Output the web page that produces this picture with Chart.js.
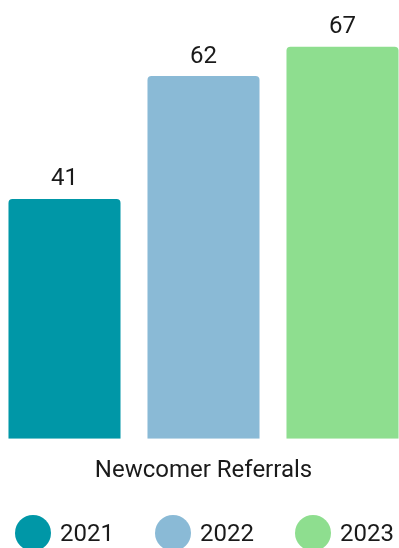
<!DOCTYPE html>
<html>
<head>
<meta charset="utf-8">
<script src="https://cdn.jsdelivr.net/npm/chart.js@4.4.0/dist/chart.umd.min.js"></script>
<style>
    html, body { margin: 0; padding: 0; background: #fff; overflow: hidden; }
    .wrap { position: relative; width: 399px; height: 548px; }
    .chart-box { position: absolute; left: 0; top: 0; width: 399px; height: 518px; }
    .legend { position: absolute; left: 15px; top: 515px; display: flex; font-family: Roboto, sans-serif; font-size: 24px; color: #1a1a1a; }
    .legend-item { display: flex; align-items: center; width: 140px; }
    .legend-dot { width: 36px; height: 36px; border-radius: 50%; margin-right: 9px; flex: none; }
</style>
</head>
<body>
<div class="wrap">
    <div class="chart-box"><canvas id="referralsChart"></canvas></div>
    <div class="legend" id="legend"></div>
</div>
<script>
// Yillar bo'yicha yo'llanmalar soni
const categories = ['Newcomer Referrals'];
const years = ['2021', '2022', '2023'];
const referrals = [41, 62, 67];
const colors = ['#0097a7', '#8abad6', '#8ede8f'];

const textColor = '#1a1a1a';

// Ustunlar ustiga qiymatni yozish
const valueLabels = {
    id: 'valueLabels',
    afterDatasetsDraw(chart) {
        const ctx = chart.ctx;
        ctx.save();
        ctx.font = '24px Roboto, sans-serif';
        ctx.fillStyle = textColor;
        ctx.textAlign = 'center';
        ctx.textBaseline = 'alphabetic';
        chart.data.datasets.forEach((ds, i) => {
            chart.getDatasetMeta(i).data.forEach((bar, j) => {
                ctx.fillText(ds.data[j], bar.x, bar.y - 13.5);
            });
        });
        ctx.restore();
    }
};

const datasets = years.map((year, i) => ({
    label: year,
    data: [referrals[i]],
    backgroundColor: colors[i],
    borderRadius: 4,
    categoryPercentage: 1.0665,
    barPercentage: 0.806
}));

new Chart(document.getElementById('referralsChart'), {
    type: 'bar',
    data: { labels: categories, datasets: datasets },
    plugins: [valueLabels],
    options: {
        responsive: true,
        maintainAspectRatio: false,
        animation: false,
        layout: { padding: { left: 8, right: 0, top: 0, bottom: 14.5 } },
        scales: {
            x: {
                grid: { display: false, drawTicks: false },
                border: { display: false },
                ticks: { color: textColor, padding: 18, font: { family: 'Roboto', size: 24 } }
            },
            y: {
                display: false,
                min: 0,
                max: 75
            }
        },
        plugins: {
            legend: { display: false },
            tooltip: { enabled: false }
        }
    }
});

// Pastdagi legenda
const legendEl = document.getElementById('legend');
years.forEach((year, i) => {
    const item = document.createElement('div');
    item.className = 'legend-item';
    item.innerHTML = `<span class="legend-dot" style="background:${colors[i]}"></span><span>${year}</span>`;
    legendEl.appendChild(item);
});
</script>
</body>
</html>
